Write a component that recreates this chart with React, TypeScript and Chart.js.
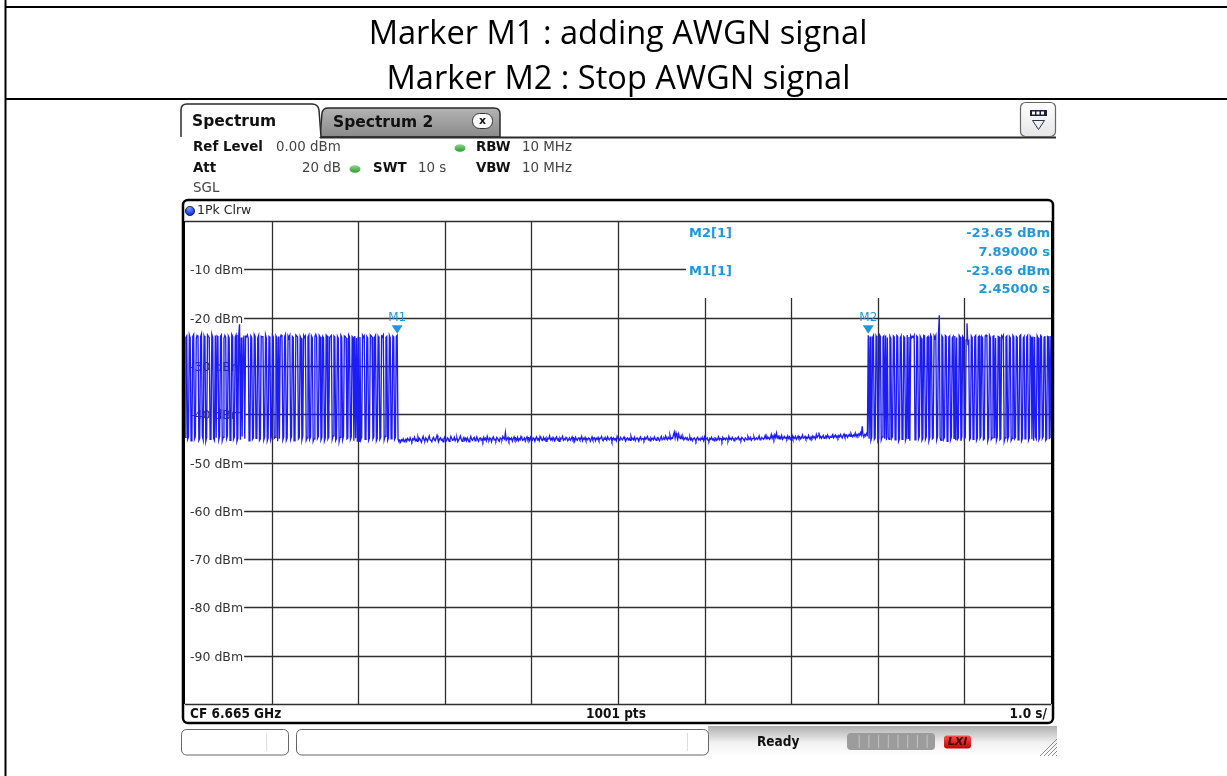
import React, { useEffect, useRef } from "react";
import { Chart, registerables } from "chart.js";

Chart.register(...registerables);

// ---------------- data ----------------
const titleLines = ["Marker M1 : adding AWGN signal", "Marker M2 : Stop AWGN signal"];
const sweepPoints = 1001;
const sweepTimeS = 10;
const yMin = -100;
const yMax = 0;
const levelTicks = [-10, -20, -30, -40, -50, -60, -70, -80, -90];
const timeDivisions = [1, 2, 3, 4, 5, 6, 7, 8, 9];

const markerNames = ["M1", "M2"];
const markerTimes = [2.45, 7.89];
const markerLevels = [-23.66, -23.65];

// 0.00 s .. 2.45 s : AWGN bursts
const burstStart = [
  -44.8, -24.1, -23.8, -45.2, -44.7, -23.6, -24.2, -45.5, -44.9, -23.9,
  -23.5, -45.1, -44.6, -24.3, -23.7, -23.9, -45.4, -45.0, -24.0, -23.4,
  -44.5, -45.3, -23.8, -24.4, -45.6, -44.8, -23.6, -23.9, -24.1, -45.2,
  -44.7, -23.5, -24.2, -45.0, -45.4, -23.7, -44.9, -23.8, -24.0, -45.3,
  -44.6, -23.9, -23.6, -45.5, -44.8, -24.3, -23.7, -24.1, -45.1, -44.5,
  -23.8, -24.2, -45.4, -44.9, -23.5, -23.9, -45.2, -44.7, -24.0, -23.6,
  -45.6, -45.0, -23.8, -21.4, -45.3, -24.1, -44.6, -24.2, -23.7, -45.1,
  -23.9, -24.0, -23.6, -24.3, -45.5, -44.8, -23.8, -24.1, -45.2, -44.9,
  -23.5, -23.9, -45.0, -44.6, -24.2, -23.7, -45.4, -45.1, -23.9, -24.0,
  -23.8, -45.3, -44.7, -23.6, -24.3, -45.5, -44.9, -23.9, -24.1, -45.2,
  -44.5, -23.7, -24.0, -45.0, -44.8, -23.8, -24.2, -45.6, -23.9, -45.1,
  -24.1, -23.6, -23.9, -45.3, -44.7, -24.0, -23.5, -45.4, -44.9, -23.8,
  -24.2, -23.7, -45.2, -44.6, -23.9, -24.1, -45.5, -45.0, -23.6, -23.8,
  -24.0, -45.1, -44.8, -23.9, -24.3, -45.3, -44.5, -23.7, -24.1, -23.8,
  -45.4, -44.9, -24.0, -23.6, -45.2, -44.7, -23.8, -24.2, -45.6, -45.1,
  -23.9, -23.5, -24.1, -45.0, -44.6, -23.7, -24.0, -45.3, -44.8, -23.9,
  -24.2, -45.5, -44.9, -23.6, -23.8, -45.1, -44.7, -24.1, -23.9, -23.7,
  -45.2, -44.5, -23.8, -24.0, -45.4, -45.0, -23.9, -24.3, -45.6, -44.8,
  -23.7, -24.1, -45.3, -44.6, -23.8, -23.9, -24.2, -45.1, -44.9, -23.6,
  -24.0, -45.2, -44.7, -23.9, -24.1, -45.5, -23.8, -45.0, -24.2, -45.7,
  -23.9, -45.6, -24.0, -45.3, -44.8, -23.7, -24.1, -23.8, -45.2, -44.6,
  -23.9, -24.2, -45.4, -44.9, -23.6, -23.8, -24.0, -45.1, -44.7, -24.1,
  -23.7, -45.5, -45.0, -23.9, -24.3, -45.2, -44.8, -23.8, -24.0, -23.6,
  -45.3, -44.6, -24.1, -23.9, -45.4, -44.9, -23.7, -24.2, -45.1, -44.7,
  -23.8, -24.0, -45.2, -44.8, -23.9, -23.66,
];

// 2.46 s .. 7.88 s : noise floor (AWGN off)
const noiseFloor = [
  -45.2, -45.6, -45.4, -45.8, -45.3, -45.5, -45.1, -45.7, -45.4, -45.2,
  -45.6, -45.0, -45.3, -45.5, -44.9, -45.4, -45.7, -45.1, -45.3, -44.8,
  -45.5, -45.2, -45.6, -44.7, -45.3, -45.0, -45.4, -45.8, -45.1, -44.6,
  -45.3, -45.5, -44.9, -45.2, -45.6, -45.0, -44.5, -45.3, -45.4, -45.7,
  -45.1, -44.8, -45.3, -45.5, -45.0, -44.4, -45.2, -45.6, -45.1, -44.9,
  -45.4, -45.2, -45.7, -45.0, -44.7, -45.3, -45.5, -44.9, -45.1, -45.6,
  -45.2, -44.6, -45.0, -45.4, -45.3, -44.8, -45.5, -45.1, -44.9, -45.7,
  -45.3, -45.0, -44.5, -45.2, -45.6, -45.1, -44.8, -45.4, -45.0, -45.5,
  -44.9, -45.3, -45.7, -45.1, -44.6, -45.2, -45.4, -45.0, -44.8, -45.5,
  -45.2, -44.7, -45.3, -45.6, -45.0, -44.9, -45.4, -45.1, -45.6, -44.8,
  -45.3, -45.0, -45.5, -44.6, -45.2, -45.4, -44.9, -45.1, -45.7, -45.0,
  -44.7, -45.3, -45.2, -45.5, -44.8, -45.0, -45.4, -45.6, -44.9, -45.1,
  -45.3, -44.6, -45.0, -45.2, -43.8, -45.4, -45.1, -44.8, -45.5, -45.0,
  -45.2, -44.9, -45.6, -45.1, -44.7, -45.3, -45.0, -45.4, -44.8, -45.5,
  -45.1, -45.3, -44.6, -45.0, -45.4, -45.2, -44.9, -45.6, -45.1, -44.7,
  -45.3, -45.0, -45.5, -44.8, -45.2, -45.4, -44.9, -45.1, -45.6, -45.0,
  -44.7, -45.3, -45.1, -45.5, -44.6, -45.0, -45.2, -45.4, -44.8, -45.3,
  -45.0, -45.6, -44.9, -45.2, -45.1, -44.5, -45.3, -45.0, -45.4, -44.8,
  -45.2, -45.5, -45.0, -44.7, -45.3, -45.1, -45.6, -44.9, -45.2, -45.0,
  -44.6, -45.4, -45.1, -45.3, -44.8, -45.0, -45.5, -45.2, -44.9, -45.4,
  -45.1, -44.7, -45.3, -45.0, -45.6, -44.8, -45.2, -45.4, -45.0, -44.9,
  -45.3, -45.1, -44.6, -45.5, -45.0, -45.2, -44.8, -45.4, -45.1, -45.3,
  -44.9, -45.0, -45.6, -45.2, -44.7, -45.3, -45.1, -44.9, -45.5, -45.0,
  -45.2, -44.8, -45.4, -45.1, -45.0, -44.6, -45.3, -45.5, -44.9, -45.2,
  -45.0, -45.4, -44.7, -45.1, -45.3, -45.0, -44.8, -45.6, -45.2, -44.9,
  -45.3, -45.1, -45.5, -44.6, -45.0, -45.2, -45.4, -44.8, -45.1, -45.3,
  -45.0, -44.7, -45.2, -45.5, -45.1, -44.9, -45.3, -45.0, -45.4, -44.6,
  -45.2, -45.0, -45.3, -44.8, -45.5, -45.1, -44.9, -45.2, -45.6, -45.0,
  -44.7, -45.3, -45.1, -45.0, -45.4, -44.8, -45.2, -45.0, -44.6, -45.3,
  -45.1, -45.5, -44.9, -45.2, -45.0, -45.3, -44.7, -45.1, -45.4, -45.0,
  -44.8, -45.2, -45.5, -45.0, -44.6, -45.3, -45.1, -44.9, -45.2, -44.5,
  -45.0, -45.3, -44.8, -45.1, -44.4, -45.2, -44.9, -45.0, -44.3, -43.7,
  -44.9, -43.9, -44.6, -45.2, -44.1, -44.8, -45.0, -44.5, -45.1, -44.7,
  -45.3, -45.0, -44.8, -45.2, -44.9, -45.4, -45.1, -44.7, -45.3, -45.0,
  -45.5, -45.1, -44.9, -45.2, -45.6, -45.0, -44.8, -45.3, -45.1, -45.4,
  -44.9, -45.2, -45.0, -45.5, -44.7, -45.3, -45.1, -44.9, -45.4, -45.6,
  -45.0, -45.2, -44.8, -45.3, -45.1, -45.5, -44.9, -45.0, -45.4, -45.2,
  -44.7, -45.3, -45.0, -45.1, -45.6, -44.8, -45.2, -45.0, -45.3, -44.9,
  -45.1, -45.4, -44.6, -45.2, -45.0, -45.3, -44.8, -45.1, -45.5, -45.0,
  -44.9, -45.2, -45.0, -44.7, -45.3, -45.1, -45.4, -44.8, -45.0, -45.2,
  -45.5, -44.9, -45.1, -45.3, -44.6, -45.0, -45.2, -44.8, -45.4, -45.1,
  -45.0, -44.7, -45.3, -45.1, -44.9, -45.2, -45.0, -44.5, -45.3, -45.1,
  -44.8, -45.0, -45.2, -44.9, -44.4, -45.1, -44.6, -45.0, -44.8, -45.2,
  -44.9, -44.2, -45.0, -44.5, -45.1, -44.3, -44.8, -43.9, -44.9, -44.6,
  -45.1, -44.7, -45.0, -44.4, -45.2, -44.9, -44.6, -45.0, -44.8, -45.1,
  -44.5, -45.0, -44.7, -45.2, -44.9, -44.4, -45.1, -44.8, -45.0, -44.6,
  -45.2, -44.9, -44.5, -45.0, -44.7, -45.1, -44.8, -44.3, -45.0, -44.9,
  -44.6, -45.1, -44.8, -45.0, -44.4, -44.9, -45.2, -44.7, -45.0, -44.5,
  -44.9, -44.7, -45.1, -44.2, -44.8, -44.5, -43.8, -44.9, -44.6, -45.0,
  -44.7, -44.4, -45.0, -44.8, -44.5, -44.9, -44.3, -44.7, -45.0, -44.6,
  -44.8, -44.5, -44.2, -44.9, -44.6, -44.3, -44.8, -44.5, -44.9, -44.4,
  -44.7, -44.2, -44.6, -44.9, -44.4, -44.1, -44.7, -44.5, -44.3, -44.8,
  -44.5, -44.2, -44.6, -44.0, -44.4, -44.7, -44.3, -44.5, -43.9, -44.6,
  -44.2, -44.5, -44.1, -44.4, -43.8, -44.3, -42.5, -44.4, -44.6, -44.2,
  -44.5, -44.0, -44.3,
];

// 7.89 s .. 10.00 s : AWGN bursts again
const burstEnd = [
  -23.65, -45.1, -23.9, -45.4, -44.8, -24.1, -23.7, -45.2, -44.9, -23.8,
  -24.2, -45.5, -45.0, -23.6, -23.9, -45.3, -44.7, -24.0, -23.8, -45.1,
  -23.7, -45.4, -24.1, -44.8, -45.2, -23.9, -24.3, -45.0, -44.6, -23.8,
  -24.0, -45.3, -44.9, -23.7, -23.9, -45.6, -45.1, -24.2, -23.8, -45.2,
  -44.7, -23.9, -24.1, -45.4, -44.8, -23.6, -45.0, -24.0, -45.5, -23.8,
  -24.2, -23.9, -24.1, -23.7, -45.3, -44.9, -23.8, -24.0, -45.1, -44.6,
  -23.9, -24.3, -45.4, -45.0, -23.7, -23.8, -45.2, -44.7, -24.1, -23.9,
  -45.5, -44.8, -23.6, -24.0, -45.1, -44.9, -23.8, -24.2, -23.7, -45.3,
  -44.6, -23.9, -19.5, -45.0, -45.4, -23.8, -24.1, -45.2, -44.8, -23.7,
  -23.9, -45.6, -45.1, -24.0, -23.8, -45.3, -44.7, -24.2, -23.9, -45.0,
  -23.8, -45.4, -24.1, -45.2, -44.9, -23.7, -24.0, -45.5, -44.6, -23.9,
  -24.2, -45.1, -44.8, -24.6, -21.2, -25.3, -24.9, -45.3, -45.0, -23.8,
  -24.1, -45.2, -44.7, -23.9, -23.7, -45.4, -44.9, -24.0, -23.8, -45.0,
  -44.6, -23.9, -24.2, -45.3, -45.1, -23.8, -23.6, -24.0, -45.5, -44.8,
  -23.7, -24.1, -45.2, -44.9, -23.9, -23.8, -45.0, -24.2, -45.4, -44.7,
  -23.9, -24.0, -45.3, -45.1, -23.8, -24.1, -23.7, -45.6, -44.9, -24.0,
  -23.8, -45.2, -44.6, -23.9, -24.2, -45.4, -45.0, -23.7, -24.0, -45.1,
  -44.8, -23.9, -24.1, -45.3, -44.7, -23.8, -23.6, -45.5, -45.0, -24.2,
  -23.9, -45.1, -44.8, -24.0, -23.7, -45.4, -44.9, -23.8, -24.1, -45.2,
  -23.9, -45.5, -24.0, -44.7, -45.1, -23.8, -24.2, -45.3, -44.9, -23.7,
  -23.9, -45.0, -44.6, -24.1, -23.8, -45.4, -45.1, -23.9, -24.0, -45.2,
  -23.8, -45.0,
];

// ---------------- look ----------------
const UI = '"DejaVu Sans", Verdana, sans-serif';
const MARKER_BLUE = "#1e98dc";
const TRACE_BLUE = "#1c1cf6";

function text(ctx: CanvasRenderingContext2D, s: string, x: number, y: number, font: string, color: string, align: CanvasTextAlign = "left", base: CanvasTextBaseline = "middle") {
  ctx.font = font;
  ctx.fillStyle = color;
  ctx.textAlign = align;
  ctx.textBaseline = base;
  ctx.fillText(s, x, y);
}

function condensed(ctx: CanvasRenderingContext2D, on: boolean) {
  try {
    (ctx as any).fontStretch = on ? "condensed" : "normal";
  } catch (e) {}
}

function line(ctx: CanvasRenderingContext2D, x1: number, y1: number, x2: number, y2: number, color: string, w: number) {
  ctx.beginPath();
  ctx.moveTo(x1, y1);
  ctx.lineTo(x2, y2);
  ctx.strokeStyle = color;
  ctx.lineWidth = w;
  ctx.stroke();
}

const INFO_LEFT = 686;
const INFO_BOTTOM = 298;

const screenPlugin = {
  id: "screenPlugin",
  beforeDraw(chart: any) {
    const ctx: CanvasRenderingContext2D = chart.ctx;
    const { width, height } = chart;
    const area = chart.chartArea;
    const xs = chart.scales.x;
    const ys = chart.scales.y;
    ctx.save();
    ctx.fillStyle = "#ffffff";
    ctx.fillRect(0, 0, width, height);

    // document table
    line(ctx, 5.5, 0, 5.5, height, "#000", 2);
    line(ctx, 5, 7, width, 7, "#000", 2);
    line(ctx, 5, 99, width, 99, "#000", 2);
    text(ctx, titleLines[0], 618, 44, '32.6px "Open Sans", "Noto Sans", sans-serif', "#000", "center", "alphabetic");
    text(ctx, titleLines[1], 618.5, 89, '32.6px "Open Sans", "Noto Sans", sans-serif', "#000", "center", "alphabetic");

    // tabs
    const g2 = ctx.createLinearGradient(0, 108, 0, 137);
    g2.addColorStop(0, "#b4b4b4");
    g2.addColorStop(1, "#8a8a8a");
    ctx.beginPath();
    ctx.moveTo(320, 137);
    ctx.lineTo(322, 113);
    ctx.quadraticCurveTo(323, 108, 328, 108);
    ctx.lineTo(494, 108);
    ctx.quadraticCurveTo(500, 108, 500, 114);
    ctx.lineTo(500, 137);
    ctx.closePath();
    ctx.fillStyle = g2;
    ctx.fill();
    ctx.strokeStyle = "#2a2a2a";
    ctx.lineWidth = 1.5;
    ctx.stroke();

    ctx.beginPath();
    ctx.moveTo(181, 137);
    ctx.lineTo(181, 110);
    ctx.quadraticCurveTo(181, 104, 187, 104);
    ctx.lineTo(312, 104);
    ctx.quadraticCurveTo(318, 104, 319, 110);
    ctx.lineTo(321, 137);
    ctx.fillStyle = "#ffffff";
    ctx.fill();
    ctx.strokeStyle = "#2a2a2a";
    ctx.lineWidth = 1.5;
    ctx.stroke();
    line(ctx, 320, 137.5, 1056, 137.5, "#2a2a2a", 2);

    text(ctx, "Spectrum", 192, 122, `bold 15.5px ${UI}`, "#111");
    text(ctx, "Spectrum 2", 333, 123, `bold 15.5px ${UI}`, "#111");
    ctx.beginPath();
    ctx.roundRect(472.5, 113.5, 20, 15, 7);
    ctx.fillStyle = "#fafafa";
    ctx.fill();
    ctx.strokeStyle = "#333";
    ctx.lineWidth = 1;
    ctx.stroke();
    text(ctx, "x", 482.5, 121, `bold 11px ${UI}`, "#111", "center");

    // top-right button
    const gb = ctx.createLinearGradient(0, 102, 0, 136);
    gb.addColorStop(0, "#ffffff");
    gb.addColorStop(1, "#e6e6e6");
    ctx.beginPath();
    ctx.roundRect(1020.5, 102.5, 35, 34, 5);
    ctx.fillStyle = gb;
    ctx.fill();
    ctx.strokeStyle = "#666";
    ctx.lineWidth = 1.2;
    ctx.stroke();
    ctx.fillStyle = "#1b1e3c";
    ctx.fillRect(1030, 110, 17, 6);
    ctx.fillStyle = "#ffffff";
    ctx.fillRect(1032, 111.5, 3, 3);
    ctx.fillRect(1036.5, 111.5, 3, 3);
    ctx.fillRect(1041, 111.5, 3, 3);
    ctx.beginPath();
    ctx.moveTo(1032.5, 120.5);
    ctx.lineTo(1044.5, 120.5);
    ctx.lineTo(1038.5, 129.5);
    ctx.closePath();
    ctx.strokeStyle = "#2c3050";
    ctx.lineWidth = 1;
    ctx.stroke();

    // settings
    const B = `bold 13.4px ${UI}`;
    const N = `13.4px ${UI}`;
    const dot = (x: number, y: number) => {
      const gd = ctx.createLinearGradient(0, y - 4, 0, y + 4);
      gd.addColorStop(0, "#8fdc8f");
      gd.addColorStop(1, "#2a9a2a");
      ctx.beginPath();
      ctx.ellipse(x, y, 5.5, 3.8, 0, 0, Math.PI * 2);
      ctx.fillStyle = gd;
      ctx.fill();
    };
    text(ctx, "Ref Level", 193, 148, B, "#111");
    text(ctx, "0.00 dBm", 276, 148, N, "#444");
    dot(460, 148);
    text(ctx, "RBW", 476, 148, B, "#111");
    text(ctx, "10 MHz", 522, 148, N, "#444");
    text(ctx, "Att", 193, 169, B, "#111");
    text(ctx, "20 dB", 302, 169, N, "#444");
    dot(355, 169);
    text(ctx, "SWT", 373, 169, B, "#111");
    text(ctx, "10 s", 418, 169, N, "#444");
    text(ctx, "VBW", 476, 169, B, "#111");
    text(ctx, "10 MHz", 522, 169, N, "#444");
    text(ctx, "SGL", 193, 189, N, "#444");

    // trace header
    const gdot = ctx.createRadialGradient(189, 208, 1, 190, 210, 5);
    gdot.addColorStop(0, "#6f8cff");
    gdot.addColorStop(1, "#1030e0");
    ctx.beginPath();
    ctx.arc(190, 211, 4.6, 0, Math.PI * 2);
    ctx.fillStyle = gdot;
    ctx.fill();
    ctx.strokeStyle = "#112";
    ctx.lineWidth = 0.8;
    ctx.stroke();
    text(ctx, "1Pk Clrw", 197, 211, `12.5px ${UI}`, "#222");

    // grid + level labels
    const gridColor = "#2e2e2e";
    for (const v of levelTicks) {
      const y = Math.round(ys.getPixelForValue(v)) + 0.5;
      const label = `${v} dBm`;
      ctx.font = `12.5px ${UI}`;
      const w = ctx.measureText(label).width;
      text(ctx, label, area.left + 5, y + 1, `12.5px ${UI}`, "#333");
      const xEnd = y < INFO_BOTTOM ? INFO_LEFT : area.right;
      line(ctx, area.left + 6 + w, y, xEnd, y, gridColor, 1.3);
    }
    for (const t of timeDivisions) {
      const x = Math.round(xs.getPixelForValue(t)) + 0.5;
      const yStart = x > INFO_LEFT ? INFO_BOTTOM : area.top;
      line(ctx, x, yStart, x, area.bottom, gridColor, 1.3);
    }
    line(ctx, area.left, area.top + 0.5, area.right, area.top + 0.5, gridColor, 1.5);
    line(ctx, area.left, area.bottom + 0.5, area.right, area.bottom + 0.5, gridColor, 1.5);

    // footer of diagram
    condensed(ctx, true);
    const FC = `bold 13.5px "DejaVu Sans Condensed", ${UI}`;
    text(ctx, "CF 6.665 GHz", 190, 714, FC, "#111");
    text(ctx, `${sweepPoints} pts`, 616, 714, FC, "#111", "center");
    text(ctx, `${(sweepTimeS / 10).toFixed(1)} s/`, 1047, 714, FC, "#111", "right");
    condensed(ctx, false);

    // status bar
    const gs = ctx.createLinearGradient(0, 726, 0, 756);
    gs.addColorStop(0, "#b0b0b0");
    gs.addColorStop(0.55, "#f0f0f0");
    gs.addColorStop(1, "#ffffff");
    ctx.fillStyle = gs;
    ctx.fillRect(708, 726, 349, 30);
    for (const [x0, x1, sep] of [[181.5, 288.5, 266], [296.5, 708.5, 687]]) {
      ctx.beginPath();
      ctx.roundRect(x0, 729.5, x1 - x0, 25.5, 5);
      ctx.fillStyle = "#ffffff";
      ctx.fill();
      ctx.strokeStyle = "#666";
      ctx.lineWidth = 1;
      ctx.stroke();
      line(ctx, sep + 0.5, 733, sep + 0.5, 751, "#dddddd", 1);
    }
    condensed(ctx, true);
    text(ctx, "Ready", 757, 742, FC, "#111");
    condensed(ctx, false);
    ctx.beginPath();
    ctx.roundRect(847, 733, 88, 17, 4);
    ctx.fillStyle = "#9c9c9c";
    ctx.fill();
    for (let j = 1; j < 9; j++) line(ctx, 849 + j * 9.7 + 0.5, 735, 849 + j * 9.7 + 0.5, 748, "#c4c4c4", 1);
    const gr = ctx.createLinearGradient(0, 735, 0, 749);
    gr.addColorStop(0, "#ff5050");
    gr.addColorStop(1, "#c00000");
    ctx.fillStyle = gr;
    ctx.beginPath();
    ctx.roundRect(944, 735.5, 27, 13, 3);
    ctx.fill();
    text(ctx, "LXI", 957.5, 742.5, `italic bold 11px ${UI}`, "#400000", "center");
    for (let k = 0; k < 5; k++) line(ctx, 1040 + k * 4, 756, 1057, 739 + k * 4, "#8a8a8a", 1);

    ctx.restore();
  },
  afterDatasetsDraw(chart: any) {
    const ctx: CanvasRenderingContext2D = chart.ctx;
    const area = chart.chartArea;
    const xs = chart.scales.x;
    const ys = chart.scales.y;
    ctx.save();

    // markers on trace
    markerNames.forEach((name, i) => {
      const x = xs.getPixelForValue(markerTimes[i]);
      const y = ys.getPixelForValue(markerLevels[i]);
      ctx.beginPath();
      ctx.moveTo(x - 5.5, y - 10);
      ctx.lineTo(x + 5.5, y - 10);
      ctx.lineTo(x, y - 1.5);
      ctx.closePath();
      ctx.fillStyle = MARKER_BLUE;
      ctx.fill();
      text(ctx, name, x, y - 17, `12px ${UI}`, MARKER_BLUE, "center");
    });

    // marker readout (last marker first)
    const MB = `bold 13px ${UI}`;
    const order = markerNames.map((_, i) => i).reverse();
    order.forEach((i, row) => {
      const y0 = 234 + row * 37.5;
      text(ctx, `${markerNames[i]}[1]`, 689, y0, MB, MARKER_BLUE);
      text(ctx, `${markerLevels[i].toFixed(2)} dBm`, area.right - 1, y0, MB, MARKER_BLUE, "right");
      text(ctx, `${markerTimes[i].toFixed(5)} s`, area.right - 1, y0 + 18.5, MB, MARKER_BLUE, "right");
    });

    // diagram frame
    line(ctx, area.left - 1, area.top, area.left - 1, area.bottom, "#000", 2);
    line(ctx, area.right + 1, area.top, area.right + 1, area.bottom, "#000", 2);
    line(ctx, area.left, 722.5, area.right, 722.5, "#000", 1);
    ctx.beginPath();
    ctx.roundRect(183, 200, 870, 523, 5);
    ctx.strokeStyle = "#000";
    ctx.lineWidth = 2.5;
    ctx.stroke();
    ctx.restore();
  },
};

export default function App() {
  const canvasRef = useRef<HTMLCanvasElement | null>(null);

  useEffect(() => {
    const canvas = canvasRef.current;
    if (!canvas) return;
    const trace = [...burstStart, ...noiseFloor, ...burstEnd];
    const step = sweepTimeS / (sweepPoints - 1);
    const points = trace.map((v, i) => ({ x: i * step, y: v }));
    const chart = new Chart(canvas, {
      type: "line",
      data: {
        datasets: [
          {
            label: "1Pk Clrw",
            data: points,
            borderColor: TRACE_BLUE,
            borderWidth: 1.35,
            pointRadius: 0,
            tension: 0,
            fill: false,
          },
        ],
      },
      options: {
        responsive: false,
        animation: false,
        devicePixelRatio: 1,
        layout: { padding: { left: 185, top: 221, right: 176, bottom: 72 } },
        scales: {
          x: { type: "linear", min: 0, max: sweepTimeS, display: false },
          y: { type: "linear", min: yMin, max: yMax, display: false },
        },
        plugins: { legend: { display: false }, tooltip: { enabled: false } },
        events: [],
      },
      plugins: [screenPlugin],
    });
    return () => chart.destroy();
  }, []);

  return (
    <div style={{ position: "fixed", left: 0, top: 0, width: 1227, height: 776, background: "#fff" }}>
      <canvas ref={canvasRef} width={1227} height={776} style={{ display: "block", width: 1227, height: 776 }} />
    </div>
  );
}
